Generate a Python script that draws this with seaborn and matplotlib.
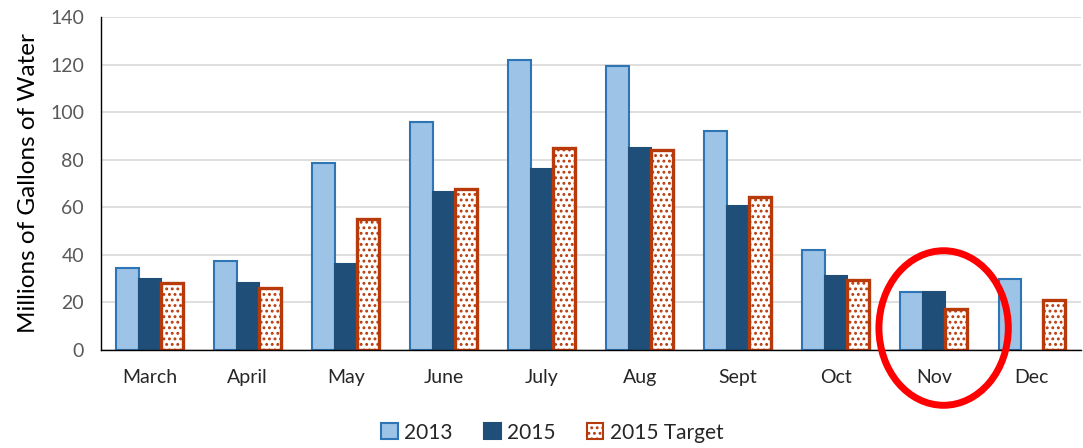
import pandas as pd
import seaborn as sns
import matplotlib.pyplot as plt
from matplotlib.patches import Ellipse, Patch

months = ["March", "April", "May", "June", "July", "Aug", "Sept", "Oct", "Nov", "Dec"]
use_2013 = [34.5, 37.5, 78.6, 96, 122, 119.5, 92, 42, 24.5, 30]
use_2015 = [30, 28, 36, 66.5, 76, 85, 60.5, 31, 24.5, None]
target_2015 = [28, 26, 55, 67.5, 85, 84, 64.5, 29.5, 17, 21]
series = ["2013", "2015", "2015 Target"]

df = pd.DataFrame({
    "month": months * 3,
    "series": [s for s in series for _ in months],
    "value": use_2013 + use_2015 + target_2015,
})

sns.set_style("white")
plt.rcParams["font.family"] = ["Lato", "DejaVu Sans"]
plt.rcParams["hatch.linewidth"] = 1.3

fill = {"2013": "#9dc3e6", "2015": "#1f4e79", "2015 Target": "white"}
edge = {"2013": "#2e75b6", "2015": "#1f4e79", "2015 Target": "#b83a0a"}

fig = plt.figure(figsize=(10.83, 4.48), dpi=100)
ax = fig.add_axes([0.093, 0.219, 0.905, 0.743])

sns.barplot(data=df, x="month", y="value", hue="series", hue_order=series,
            order=months, palette=fill, width=0.68, gap=0, ax=ax,
            legend=False, saturation=1)

for cont, s in zip(ax.containers, series):
    for bar in cont:
        bar.set_edgecolor(edge[s])
        bar.set_linewidth(2.4 if s == "2015 Target" else 1.5)
        if s == "2015 Target":
            bar.set_hatch("...")

ax.set_ylim(0, 140)
ax.set_yticks(range(0, 141, 20))
ax.set_xlim(-0.5, 9.5)
ax.yaxis.grid(True, color="#d9d9d9", linewidth=1.2)
ax.set_axisbelow(True)
for sp in ["top", "right"]:
    ax.spines[sp].set_visible(False)
for sp in ["left", "bottom"]:
    ax.spines[sp].set_color("black")
    ax.spines[sp].set_linewidth(1)
ax.tick_params(axis="y", labelsize=14, colors="#595959", length=0, pad=12)
ax.tick_params(axis="x", labelsize=14, length=0, pad=14)
for t in ax.get_xticklabels():
    t.set_color("#262626")
ax.set_xlabel("")
ax.set_ylabel("Millions of Gallons of Water", fontsize=17.5, color="black", labelpad=8)

ell = Ellipse((8.1, 9.2), width=1.32, height=65, fill=False, edgecolor="red",
              linewidth=5, clip_on=False, zorder=5)
ax.add_patch(ell)

handles = [Patch(facecolor=fill[s], edgecolor=edge[s], linewidth=1.5,
                 hatch="..." if s == "2015 Target" else None) for s in series]
fig.legend(handles, series, loc="lower center", ncol=3, frameon=False,
           fontsize=15, bbox_to_anchor=(0.51, -0.03), handlelength=0.8,
           handleheight=0.8, handletextpad=0.3, columnspacing=1.5)

fig.savefig("out.png", dpi=100)
